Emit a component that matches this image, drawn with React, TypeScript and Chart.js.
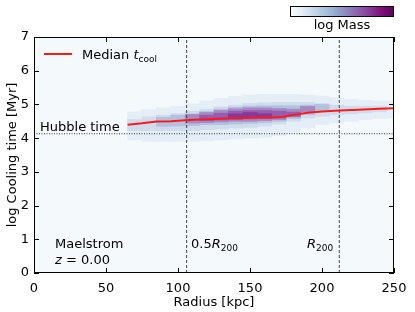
import React, { useEffect, useRef } from "react";
import { Chart, registerables } from "chart.js";

Chart.register(...registerables);

// ---- data ----
const xTickValues = [0, 50, 100, 150, 200, 250];
const yTickValues = [0, 1, 2, 3, 4, 5, 6, 7];

// median cooling time line
const medianR = [65, 75, 85, 95, 105, 115, 125, 135, 145, 155, 165, 172, 180, 190, 200, 212, 225, 240, 250];
const medianT = [4.40, 4.44, 4.49, 4.50, 4.53, 4.55, 4.57, 4.59, 4.60, 4.61, 4.61, 4.63, 4.69, 4.75, 4.79, 4.82, 4.84, 4.87, 4.89];

// 2D histogram, drawn as mass levels (range of log t per radial bin)
const haloR = [70, 80, 90, 100, 110, 120, 130, 140, 150, 160, 170, 180, 190, 200, 210, 220, 230, 240, 250];
const haloLo = [3.95, 3.9, 3.9, 3.9, 3.9, 3.92, 3.95, 3.98, 4.0, 4.02, 4.08, 4.18, 4.3, 4.4, 4.45, 4.5, 4.55, 4.58, 4.6];
const haloHi = [4.78, 4.85, 4.9, 4.95, 5.02, 5.1, 5.18, 5.24, 5.28, 5.3, 5.3, 5.3, 5.28, 5.25, 5.2, 5.15, 5.12, 5.1, 5.1];

const midR = [70, 80, 90, 100, 110, 120, 130, 140, 150, 160, 170, 180, 190, 200, 210, 220, 230, 240];
const midLo = [4.22, 4.22, 4.22, 4.22, 4.22, 4.25, 4.27, 4.3, 4.32, 4.36, 4.42, 4.5, 4.6, 4.65, 4.7, 4.72, 4.75, 4.78];
const midHi = [4.55, 4.63, 4.68, 4.73, 4.8, 4.86, 4.93, 4.98, 5.03, 5.05, 5.06, 5.06, 5.06, 5.03, 4.98, 4.95, 4.95, 4.95];

const blueR = [90, 100, 110, 120, 130, 140, 150, 160, 170, 180, 190, 200];
const blueLo = [4.35, 4.36, 4.37, 4.4, 4.4, 4.42, 4.44, 4.46, 4.5, 4.58, 4.7, 4.8];
const blueHi = [4.62, 4.68, 4.72, 4.79, 4.86, 4.92, 4.95, 4.96, 4.96, 4.96, 4.98, 5.0];

const purpR = [110, 120, 130, 140, 150, 160, 170, 180, 190];
const purpLo = [4.45, 4.46, 4.48, 4.5, 4.5, 4.52, 4.55, 4.63, 4.78];
const purpHi = [4.7, 4.76, 4.82, 4.87, 4.9, 4.9, 4.88, 4.86, 4.94];

const coreR = [120, 130, 140, 150, 160, 170, 180];
const coreLo = [4.52, 4.54, 4.55, 4.57, 4.58, 4.6, 4.65];
const coreHi = [4.68, 4.74, 4.8, 4.82, 4.82, 4.8, 4.77];

const darkR = [140, 150, 160];
const darkLo = [4.6, 4.62, 4.62];
const darkHi = [4.72, 4.76, 4.72];

// reference lines
const halfR200 = 106;
const r200 = 212;
const hubbleTime = 4.13;

const colorbarStops = ["#f7fcfd", "#e0ecf4", "#bfd3e6", "#9ebcda", "#8c96c6", "#8c6bb1", "#88419d", "#810f7c", "#5e0160"];

const FONT = "'DejaVu Sans', sans-serif";

function level(rs: number[], lo: number[], hi: number[], color: string, order: number) {
  return {
    type: "bar" as const,
    data: rs.map((r, i) => ({ x: r, y: [lo[i], hi[i]] })),
    backgroundColor: color,
    borderWidth: 0,
    grouped: false,
    barPercentage: 1,
    categoryPercentage: 1,
    order,
  };
}

function drawRich(ctx: CanvasRenderingContext2D, parts: { t: string; italic?: boolean; sub?: boolean }[], x: number, y: number) {
  let cx = x;
  for (const p of parts) {
    const size = p.sub ? 9 : 13;
    ctx.font = `${p.italic ? "italic " : ""}${size}px ${FONT}`;
    ctx.fillText(p.t, cx, p.sub ? y + 3 : y);
    cx += ctx.measureText(p.t).width;
  }
}

const decorPlugin = {
  id: "decor",
  beforeDatasetsDraw(chart: any) {
    const { ctx, chartArea: a } = chart;
    ctx.save();
    ctx.fillStyle = "#f4f9fc";
    ctx.fillRect(a.left, a.top, a.right - a.left, a.bottom - a.top);
    ctx.restore();
  },
  afterDraw(chart: any) {
    const { ctx, chartArea: a, scales } = chart;
    ctx.save();
    // frame
    ctx.strokeStyle = "#000";
    ctx.lineWidth = 1;
    ctx.strokeRect(a.left + 0.5, a.top + 0.5, a.right - a.left - 1, a.bottom - a.top - 1);
    // inward ticks
    const tl = 5;
    ctx.beginPath();
    for (const v of xTickValues) {
      const px = Math.round(scales.x.getPixelForValue(v)) + 0.5;
      ctx.moveTo(px, a.bottom);
      ctx.lineTo(px, a.bottom - tl);
      ctx.moveTo(px, a.top);
      ctx.lineTo(px, a.top + tl);
    }
    for (const v of yTickValues) {
      const py = Math.round(scales.y.getPixelForValue(v)) + 0.5;
      ctx.moveTo(a.left, py);
      ctx.lineTo(a.left + tl, py);
      ctx.moveTo(a.right, py);
      ctx.lineTo(a.right - tl, py);
    }
    ctx.stroke();

    // legend
    ctx.strokeStyle = "#ff1a1a";
    ctx.lineWidth = 2;
    ctx.beginPath();
    ctx.moveTo(44, 54);
    ctx.lineTo(72, 54);
    ctx.stroke();
    ctx.fillStyle = "#000";
    ctx.textBaseline = "alphabetic";
    ctx.textAlign = "left";
    drawRich(ctx, [{ t: "Median " }, { t: "t", italic: true }, { t: "cool", sub: true }], 82, 59);

    // annotations
    drawRich(ctx, [{ t: "Hubble time" }], 40, 131);
    drawRich(ctx, [{ t: "Maelstrom" }], 55, 248);
    drawRich(ctx, [{ t: "z", italic: true }, { t: " = 0.00" }], 55, 264);
    drawRich(ctx, [{ t: "0.5" }, { t: "R", italic: true }, { t: "200", sub: true }], 191, 248);
    drawRich(ctx, [{ t: "R", italic: true }, { t: "200", sub: true }], 307, 248);

    // colorbar
    const cbL = 290, cbR = 394, cbT = 6, cbB = 16;
    const g = ctx.createLinearGradient(cbL, 0, cbR, 0);
    colorbarStops.forEach((c, i) => g.addColorStop(i / (colorbarStops.length - 1), c));
    ctx.fillStyle = g;
    ctx.fillRect(cbL, cbT, cbR - cbL, cbB - cbT);
    ctx.strokeStyle = "#000";
    ctx.lineWidth = 1;
    ctx.strokeRect(cbL + 0.5, cbT + 0.5, cbR - cbL - 1, cbB - cbT);
    ctx.fillStyle = "#000";
    ctx.font = `13px ${FONT}`;
    ctx.textAlign = "center";
    ctx.fillText("log Mass", (cbL + cbR) / 2, 29);
    ctx.restore();
  },
};

export default function App() {
  const ref = useRef<HTMLCanvasElement | null>(null);
  useEffect(() => {
    if (!ref.current) return;
    const chart = new Chart(ref.current, {
      type: "bar",
      data: {
        datasets: [
          level(haloR, haloLo, haloHi, "#e5eef6", 20),
          level(midR, midLo, midHi, "#cfdcec", 19),
          level(blueR, blueLo, blueHi, "#b3c1df", 18),
          level(purpR, purpLo, purpHi, "#a38ac2", 17),
          level(coreR, coreLo, coreHi, "#955caf", 16),
          level(darkR, darkLo, darkHi, "#86399a", 15),
          {
            type: "line" as const,
            data: [{ x: halfR200, y: 0 }, { x: halfR200, y: 7 }],
            borderColor: "#444",
            borderWidth: 1,
            borderDash: [3, 2],
            pointRadius: 0,
            order: 5,
          },
          {
            type: "line" as const,
            data: [{ x: r200, y: 0 }, { x: r200, y: 7 }],
            borderColor: "#444",
            borderWidth: 1,
            borderDash: [3, 2],
            pointRadius: 0,
            order: 5,
          },
          {
            type: "line" as const,
            data: [{ x: 0, y: hubbleTime }, { x: 250, y: hubbleTime }],
            borderColor: "#333",
            borderWidth: 1,
            borderDash: [1, 1.5],
            pointRadius: 0,
            order: 5,
          },
          {
            type: "line" as const,
            data: medianR.map((r, i) => ({ x: r, y: medianT[i] })),
            borderColor: "#ff1a1a",
            borderWidth: 2,
            pointRadius: 0,
            tension: 0,
            order: 1,
          },
        ] as any,
      },
      options: {
        responsive: false,
        animation: false,
        events: [],
        layout: { padding: { top: 37, right: 21, left: 0, bottom: 0 } },
        plugins: { legend: { display: false }, tooltip: { enabled: false } },
        scales: {
          x: {
            type: "linear",
            min: 0,
            max: 250,
            offset: false,
            grid: { display: false, drawTicks: false },
            border: { display: false },
            afterBuildTicks: (s: any) => {
              s.ticks = xTickValues.map((v) => ({ value: v }));
            },
            afterFit: (s: any) => {
              s.height = 39;
            },
            ticks: { color: "#000", font: { family: FONT, size: 13 }, padding: 8, maxRotation: 0 },
            title: {
              display: true,
              text: "Radius [kpc]",
              color: "#000",
              font: { family: FONT, size: 13 },
              padding: { top: 0, bottom: 2 },
            },
          },
          y: {
            type: "linear",
            min: 0,
            max: 7,
            grid: { display: false, drawTicks: false },
            border: { display: false },
            afterBuildTicks: (s: any) => {
              s.ticks = yTickValues.map((v) => ({ value: v }));
            },
            afterFit: (s: any) => {
              s.width = 34;
            },
            ticks: { color: "#000", font: { family: FONT, size: 13 }, padding: 5 },
            title: {
              display: true,
              text: "log Cooling time [Myr]",
              color: "#000",
              font: { family: FONT, size: 13 },
              padding: { top: 5, bottom: 0 },
            },
          },
        },
      } as any,
      plugins: [decorPlugin],
    });
    return () => chart.destroy();
  }, []);
  return (
    <div style={{ position: "fixed", left: 0, top: 0, width: 415, height: 312, background: "#fff" }}>
      <canvas ref={ref} width={415} height={312} style={{ width: 415, height: 312 }} />
    </div>
  );
}
